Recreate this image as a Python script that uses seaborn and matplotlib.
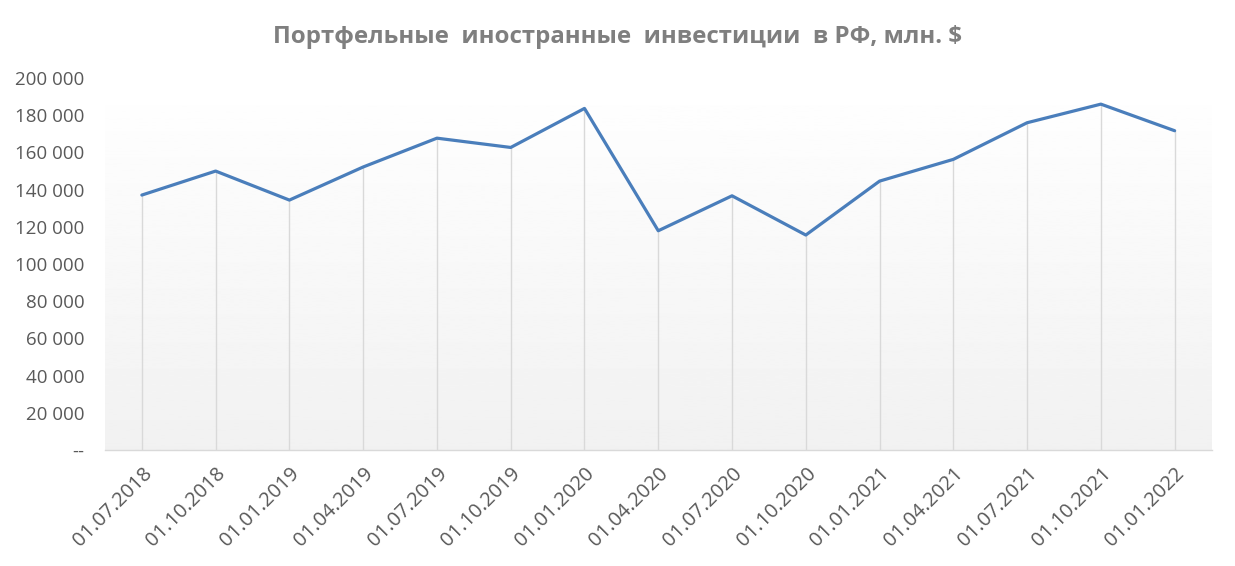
import numpy as np
import pandas as pd
import seaborn as sns
import matplotlib.pyplot as plt
from matplotlib.ticker import FuncFormatter

dates = ["01.07.2018", "01.10.2018", "01.01.2019", "01.04.2019", "01.07.2019",
         "01.10.2019", "01.01.2020", "01.04.2020", "01.07.2020", "01.10.2020",
         "01.01.2021", "01.04.2021", "01.07.2021", "01.10.2021", "01.01.2022"]
investments = [137100, 150000, 134400, 152200, 167700,
               162700, 183700, 117900, 136700, 115600,
               144600, 156300, 176000, 186000, 171700]

sns.set_theme(style="white")
plt.rcParams['font.family'] = ['Open Sans', 'DejaVu Sans']

df = pd.DataFrame({"pos": np.arange(len(dates)), "value": investments})

fig = plt.figure(figsize=(12.35, 5.66), dpi=100)
ax = fig.add_axes([0.085, 0.205, 0.896, 0.657])

# gradient background, white at top to light grey at bottom
grad = np.linspace(1.0, 0.945, 256).reshape(-1, 1)
ax.imshow(grad, cmap="gray", vmin=0, vmax=1, aspect="auto",
          extent=(-0.5, len(dates) - 0.5, 0, 200000), zorder=0)

# drop lines from each point down to the axis
ax.vlines(df["pos"], 0, df["value"], color="#d9d9d9", lw=1, zorder=1)

sns.lineplot(data=df, x="pos", y="value", ax=ax, color="#4a7ebb", lw=2.3, zorder=3)

ax.set_xlim(-0.5, len(dates) - 0.5)
ax.set_ylim(0, 200000)
ax.set_yticks(np.arange(0, 200001, 20000))
ax.yaxis.set_major_formatter(FuncFormatter(
    lambda v, p: "--" if v == 0 else f"{int(v):,}".replace(",", " ")))
ax.set_xticks(df["pos"])
ax.set_xticklabels(dates, rotation=45, ha="right", rotation_mode="anchor")
ax.tick_params(axis="y", labelsize=13.5, colors="#595959", length=0, pad=15)
ax.tick_params(axis="x", labelsize=14.5, colors="#595959", length=0, pad=10)
ax.set_xlabel("")
ax.set_ylabel("")

for s in ["top", "right", "left"]:
    ax.spines[s].set_visible(False)
ax.spines["bottom"].set_color("#d9d9d9")
ax.spines["bottom"].set_linewidth(1)

fig.suptitle("Портфельные  иностранные  инвестиции  в РФ, млн. $",
             x=0.5, y=0.955, fontsize=17.3, fontweight="bold", color="#7f7f7f")

fig.savefig("out.png", dpi=100, facecolor="white")
